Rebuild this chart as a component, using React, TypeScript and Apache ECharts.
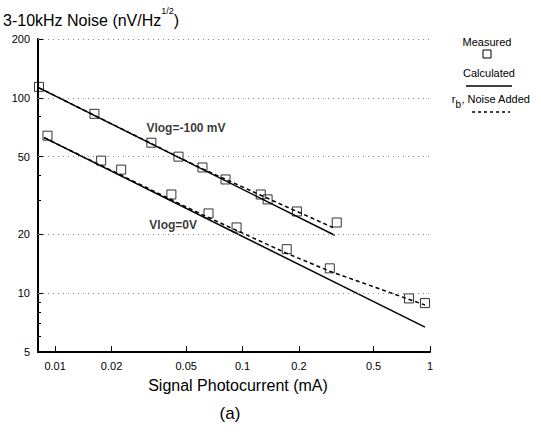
import React, { useEffect, useRef } from "react";
import * as echarts from "echarts";

// ---- data ----
const xTickValues = [0.01, 0.02, 0.05, 0.1, 0.2, 0.5, 1];
const yTickValues = [5, 10, 20, 50, 100, 200];
const yMinorTickValues = [6, 7, 8, 9, 30, 40, 80];
const gridValues = [10, 20, 50, 100, 200];

const measured100X = [0.0082, 0.0162, 0.0326, 0.0455, 0.0611, 0.0811, 0.125, 0.136, 0.195, 0.318];
const measured100Y = [113.8, 82.8, 58.9, 50.0, 44.0, 38.2, 32.0, 30.2, 26.2, 23.0];
const calc100X = [0.0082, 0.31];
const calc100Y = [112.5, 19.8];
const noise100X = [0.0082, 0.0589, 0.1233, 0.303];
const noise100Y = [112.5, 44.0, 31.9, 21.7];

const measured0X = [0.0091, 0.0176, 0.0225, 0.0417, 0.0658, 0.0929, 0.172, 0.292, 0.772, 0.94];
const measured0Y = [64.0, 47.7, 42.9, 32.0, 25.6, 21.7, 16.8, 13.4, 9.4, 8.9];
const calc0X = [0.00873, 0.94];
const calc0Y = [62.5, 6.7];
const noise0X = [0.00873, 0.0589, 0.172, 0.292, 0.94];
const noise0Y = [62.5, 25.6, 16.0, 12.95, 8.7];

const annotationTexts = ["Vlog=-100 mV", "Vlog=0V"];
const annotationX = [0.0307, 0.0318];
const annotationY = [70.3, 22.4];

const xMin = 0.0081;
const xMax = 1;
const yMin = 5;
const yMax = 200;

const FONT = "'Liberation Sans', Arial, Helvetica, sans-serif";
const lg = (v: number) => Math.log10(v);
const pairs = (xs: number[], ys: number[]) => xs.map((x, i) => [lg(x), lg(ys[i])]);
const fmt = (v: number) => String(Number(Math.pow(10, v).toPrecision(2)));

export default function App() {
  const ref = useRef<HTMLDivElement>(null);

  useEffect(() => {
    if (!ref.current) return;
    const chart = echarts.init(ref.current, undefined, { renderer: "svg" });

    const squareStyle = {
      color: "rgba(0,0,0,0)",
      borderColor: "#000",
      borderWidth: 1,
    };

    const option: any = {
      animation: false,
      backgroundColor: "#fff",
      textStyle: { fontFamily: FONT },
      grid: { left: 38, right: 111, top: 39, bottom: 80, containLabel: false },
      xAxis: {
        type: "value",
        min: lg(xMin),
        max: lg(xMax),
        axisLine: { show: true, onZero: false, lineStyle: { color: "#000", width: 2 } },
        axisTick: {
          show: true,
          inside: true,
          length: 6,
          customValues: xTickValues.map(lg),
          lineStyle: { color: "#000", width: 1 },
        },
        axisLabel: {
          show: true,
          customValues: xTickValues.map(lg),
          formatter: (v: number) => fmt(v),
          color: "#000",
          fontSize: 11,
          fontFamily: FONT,
          margin: 8,
        },
        splitLine: { show: false },
      },
      yAxis: [
        {
          type: "value",
          min: lg(yMin),
          max: lg(yMax),
          position: "left",
          axisLine: { show: true, onZero: false, lineStyle: { color: "#000", width: 2 } },
          axisTick: {
            show: true,
            inside: true,
            length: 6,
            customValues: yTickValues.map(lg),
            lineStyle: { color: "#000", width: 1 },
          },
          axisLabel: {
            show: true,
            customValues: yTickValues.map(lg),
            formatter: (v: number) => fmt(v),
            color: "#000",
            fontSize: 11,
            fontFamily: FONT,
            margin: 8,
          },
          splitLine: { show: false },
        },
        {
          type: "value",
          min: lg(yMin),
          max: lg(yMax),
          position: "left",
          offset: 0,
          axisLine: { show: false, onZero: false },
          axisTick: {
            show: true,
            inside: true,
            length: 3,
            customValues: yMinorTickValues.map(lg),
            lineStyle: { color: "#000", width: 1 },
          },
          axisLabel: { show: false },
          splitLine: { show: false },
        },
      ],
      series: [
        {
          type: "line",
          name: "calc100",
          data: pairs(calc100X, calc100Y),
          showSymbol: false,
          lineStyle: { color: "#000", width: 1.5 },
          z: 3,
          markLine: {
            silent: true,
            symbol: ["none", "none"],
            label: { show: false },
            lineStyle: { color: "#888", width: 1, type: [1, 4] },
            data: gridValues.map((v) => ({ yAxis: lg(v) })),
          },
        },
        {
          type: "line",
          name: "noise100",
          data: pairs(noise100X, noise100Y),
          showSymbol: false,
          lineStyle: { color: "#000", width: 1.5, type: [4, 3] },
          z: 3,
        },
        {
          type: "line",
          name: "calc0",
          data: pairs(calc0X, calc0Y),
          showSymbol: false,
          lineStyle: { color: "#000", width: 1.5 },
          z: 3,
        },
        {
          type: "line",
          name: "noise0",
          data: pairs(noise0X, noise0Y),
          showSymbol: false,
          lineStyle: { color: "#000", width: 1.5, type: [4, 3] },
          z: 3,
        },
        {
          type: "scatter",
          name: "measured100",
          data: pairs(measured100X, measured100Y),
          symbol: "rect",
          symbolSize: 9,
          itemStyle: squareStyle,
          z: 4,
        },
        {
          type: "scatter",
          name: "measured0",
          data: pairs(measured0X, measured0Y),
          symbol: "rect",
          symbolSize: 9,
          itemStyle: squareStyle,
          z: 4,
        },
        {
          type: "scatter",
          name: "annotations",
          data: annotationTexts.map((t, i) => ({
            value: [lg(annotationX[i]), lg(annotationY[i])],
            name: t,
          })),
          symbolSize: 0,
          silent: true,
          label: {
            show: true,
            position: "right",
            distance: 0,
            formatter: (p: any) => p.name,
            color: "#000",
            fontSize: 12,
            fontWeight: "bold",
            fontFamily: FONT,
          },
          z: 5,
        },
      ],
      graphic: [
        {
          type: "text",
          left: 3,
          top: 6,
          style: {
            text: "{m|3-10kHz Noise (nV/Hz}{s|1/2}{m|)}",
            fill: "#000",
            rich: {
              m: { fontSize: 16, fontFamily: FONT, fill: "#000", verticalAlign: "bottom", lineHeight: 22 },
              s: { fontSize: 9, fontFamily: FONT, fill: "#000", verticalAlign: "top", lineHeight: 18 },
            },
          },
        },
        {
          type: "text",
          x: 238,
          y: 385,
          style: {
            text: "Signal Photocurrent (mA)",
            fontSize: 16,
            fontFamily: FONT,
            fill: "#000",
            align: "center",
            verticalAlign: "middle",
          },
        },
        {
          type: "text",
          x: 230,
          y: 413,
          style: {
            text: "(a)",
            fontSize: 17,
            fontFamily: FONT,
            fill: "#000",
            align: "center",
            verticalAlign: "middle",
          },
        },
        // legend
        {
          type: "text",
          x: 487,
          y: 42,
          style: { text: "Measured", fontSize: 11, fontFamily: FONT, fill: "#000", align: "center", verticalAlign: "middle" },
        },
        {
          type: "rect",
          shape: { x: 483, y: 50, width: 8, height: 8 },
          style: { fill: "none", stroke: "#000", lineWidth: 1 },
        },
        {
          type: "text",
          x: 489,
          y: 73,
          style: { text: "Calculated", fontSize: 11, fontFamily: FONT, fill: "#000", align: "center", verticalAlign: "middle" },
        },
        {
          type: "line",
          shape: { x1: 466, y1: 86, x2: 512, y2: 86 },
          style: { stroke: "#000", lineWidth: 1.5 },
        },
        {
          type: "text",
          x: 491,
          y: 101,
          style: {
            text: "{r|r}{b|b}{r|, Noise Added}",
            align: "center",
            verticalAlign: "middle",
            rich: {
              r: { fontSize: 11, fontFamily: FONT, fill: "#000", verticalAlign: "top", lineHeight: 16 },
              b: { fontSize: 10, fontFamily: FONT, fill: "#000", verticalAlign: "bottom", lineHeight: 16 },
            },
          },
        },
        {
          type: "line",
          shape: { x1: 472, y1: 112, x2: 510, y2: 112 },
          style: { stroke: "#000", lineWidth: 1.5, lineDash: [3, 3] },
        },
      ],
    };

    chart.setOption(option);
    return () => chart.dispose();
  }, []);

  return (
    <div
      ref={ref}
      style={{ position: "fixed", left: 0, top: 0, width: 541, height: 432, background: "#fff" }}
    />
  );
}
